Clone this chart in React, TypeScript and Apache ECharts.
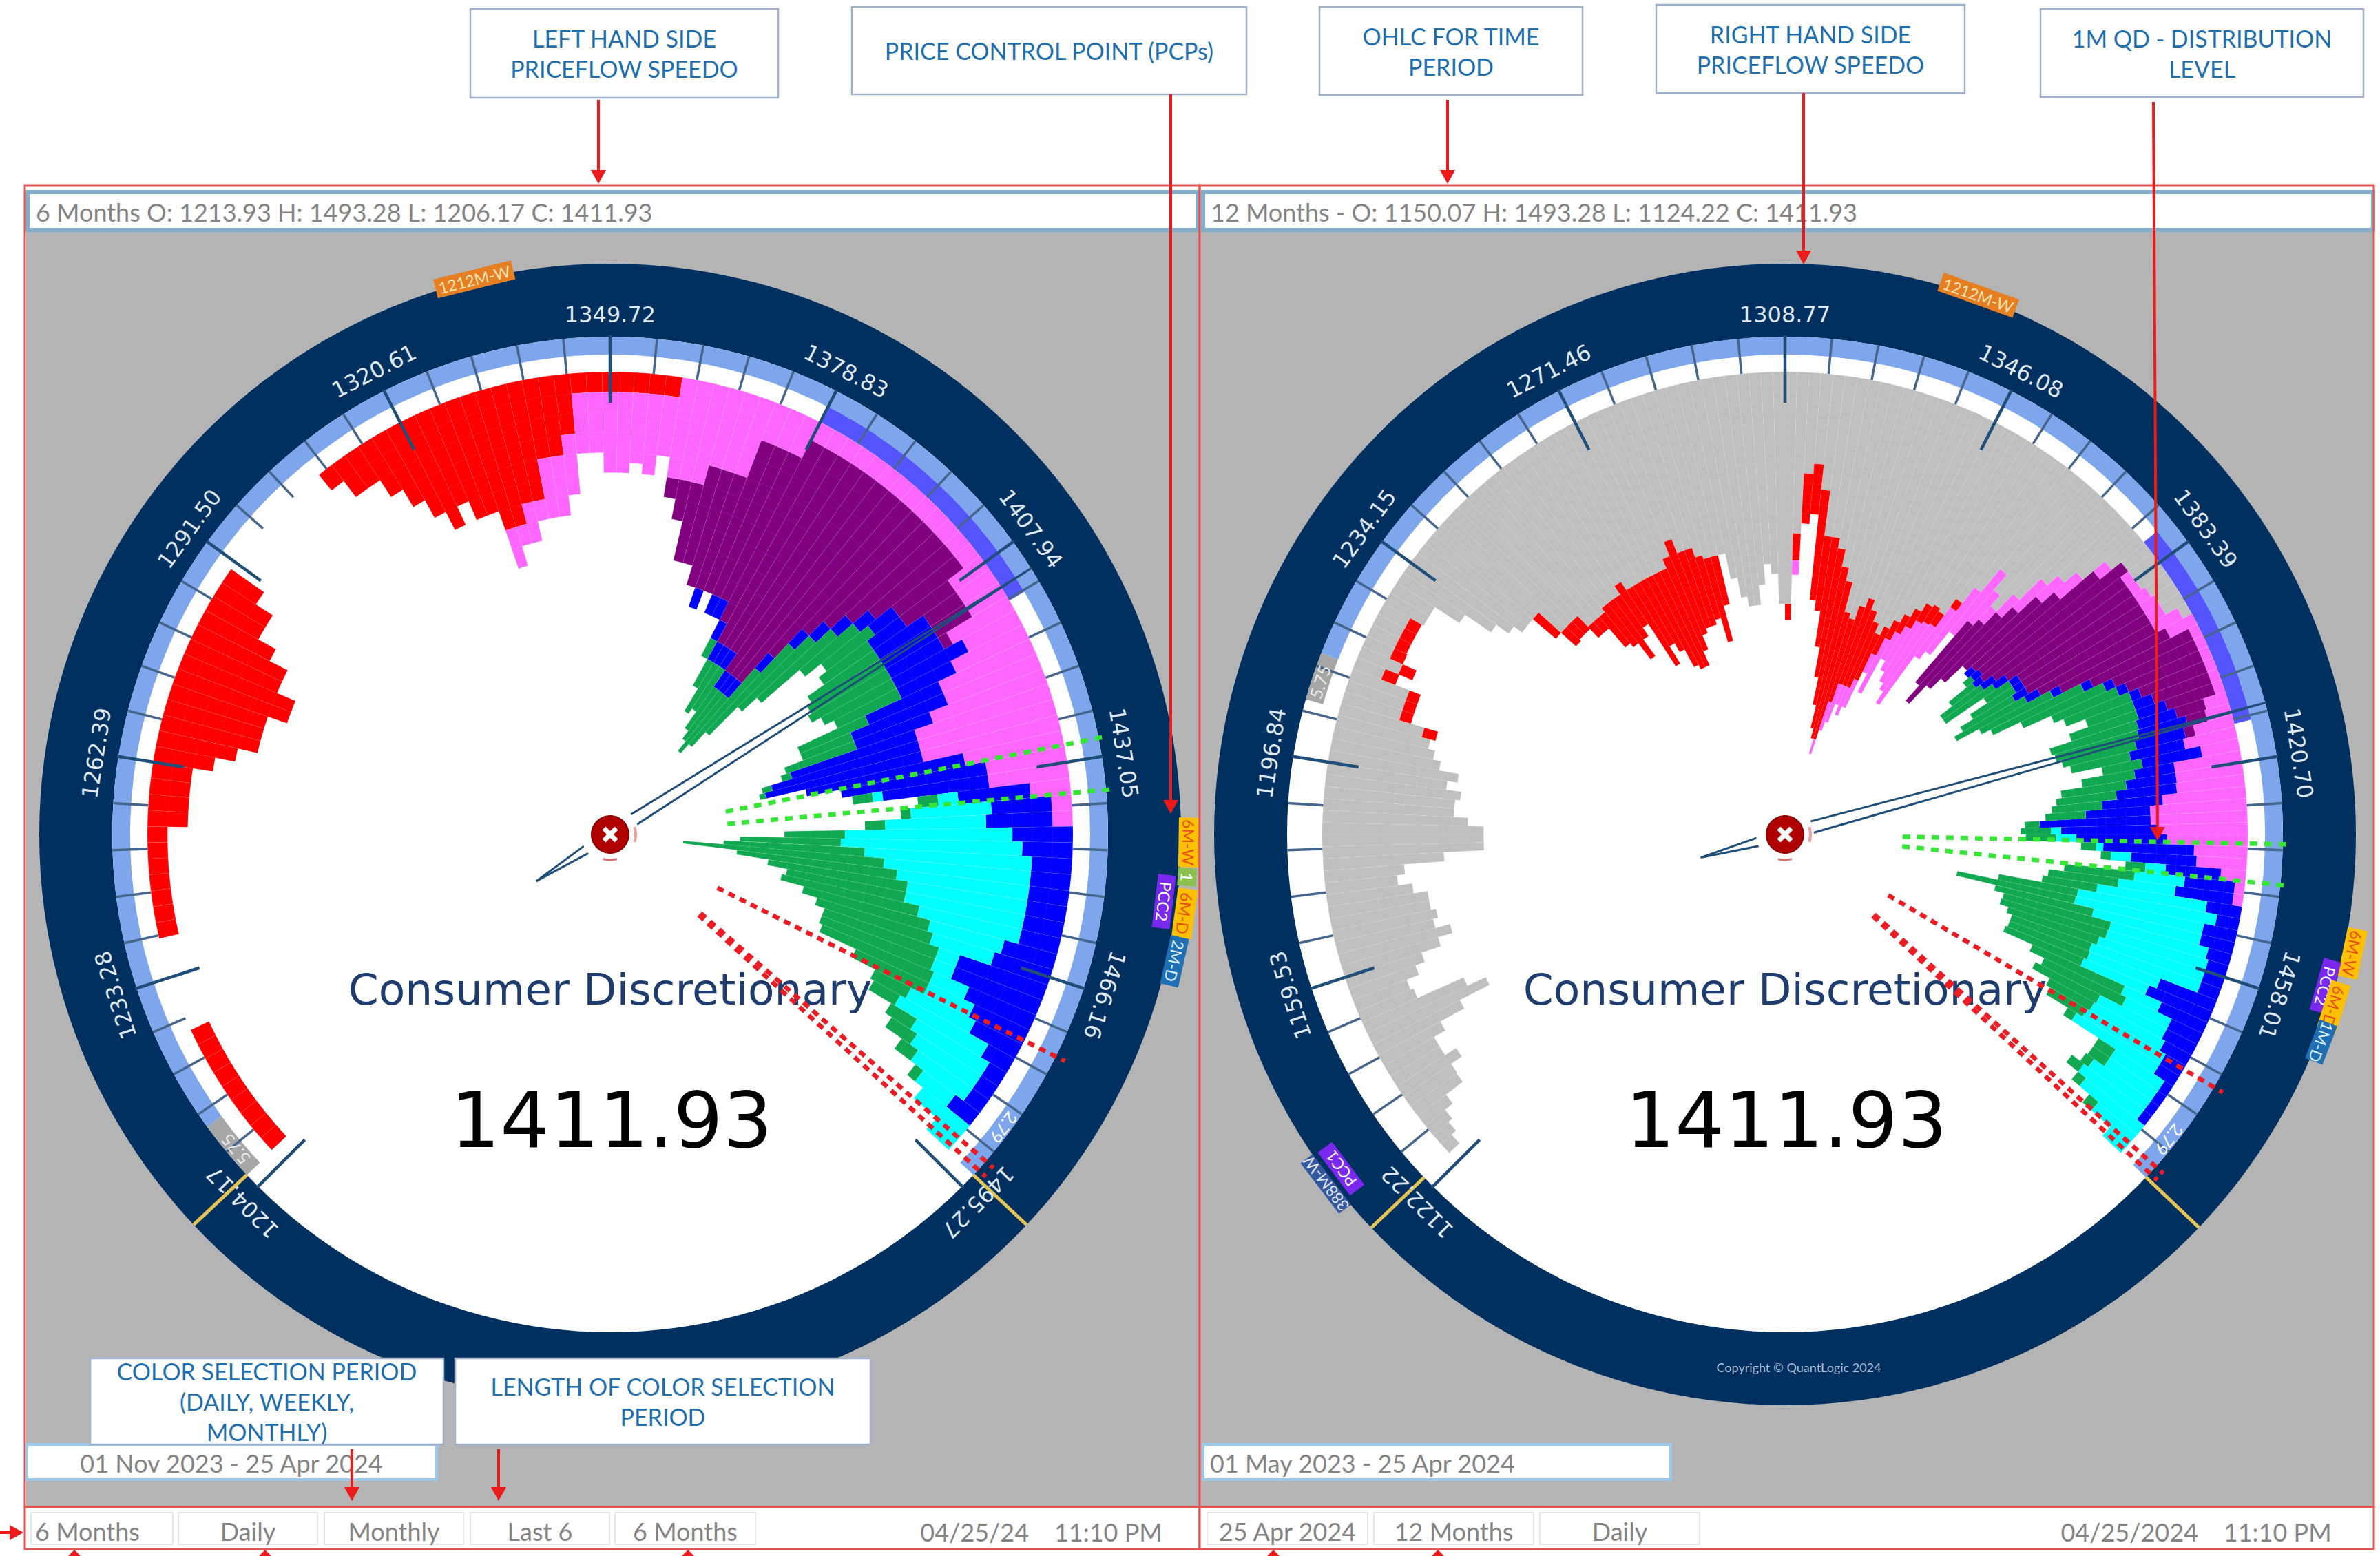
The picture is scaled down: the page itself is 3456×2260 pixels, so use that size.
import React, { useEffect, useRef } from "react";
import * as echarts from "echarts";

const at = (start: number, values: number[]) => new Array(start).fill(0).concat(values);

// ---------- 6-month gauge: sessions per price bin (135 bins) ----------
const leftRed = at(1, [1,1,1,1,1,1,1,1,1, 0,0,0,0,0,0, 1,1,1,1,1,1,1, 2,2,2,2, 3,4,5,5,5,6,6,5,5,4,3,3,2, 0,0,0,0,0,0,0,0, 1,2,2,3,4,5,6,5,6,6,7,7,6,6,4,4,3, 1,1,1,1,1,1,1]);
const leftMagenta = at(58, [2,1,2,1,3,3,3,3,3,4,4,3.5,4,3,5,5,5,4,4,4,2,2,2, 1,1,1,1,1,1,1,1,1,1,1,1,1, 2,2,2,3.5,3,4,5,5,6,7,7,7,5,4,4,2,1,1]);
const leftPurple = at(72, [1,2,4,5,6,6,8,8,8,10,11,11,11,12,12,12,10,8,7,6,5,4,3,2,2,0.5]);
const leftBlue = at(77, [1,0,1,1,1,1,1,1,1,1,1,1,1,1,1,1,1.5,2,3,3,3,4,3,4,5,4,6.5,7.6,8,8,7.3,5.3,3.6,3,3.3,3,2.5,2,2,2,2,2,2,2.7,3,4.6,4.6,3.6,3,2.6,1.5,1,1,1,1.5]);
const leftCyan = at(108, [0.5,1,4,5,8.3,9,8.3,7.3,6.6,6,6,5.2,3.8,3.2,1.1,1.1,1.9,2.5,3.6,5,4.2,3.8,3.3,2,3,1.5,0]);
const leftGreen = at(81, [1,1.5,2.8,2.5,2.5,3,3.6,5,6,5,5,3.5,3,3,4,4.3,4.5,4,3.5,3.7,2.7,3.7,0.5,0.5,0.3,0,0,1,1,0.5,1,3,5,7,10,8,7,6,7,6.5,6,6,6,6,4,2,1.5,1.5,1.5,1,0.5,0,0,0]);

// ---------- 12-month gauge: sessions per price bin (180 bins) ----------
const rightGrey = [0,1.4,2,2.5,3.5,5.6,5.7,7,5.7,5.7,7,9.7,13,11,6,5.7,7,8,10,11.5,10,10.5,10,10,8.6,7.2,8,12,16,16,16,14.4,13,13,13.5,12,13,11,10.2,9.5,8.6,6,6,6,3,4.4,3,3,3,3,4.5,4.5,7.4,10.5,12,13,13,13,16,16,16,17.5,17.5,17.5,17,17,17,16,17,17,17,17,17,17,16,14.5,16,16,17,17.4,17.4,17.4,20,22,23,23,21,19,20,23,23,16,10,9,11.5,16,16,17,18.7,20,23,23.5,22,21,22,23,24,23,22,21,20,19,18.7,19,17,15,12,14,15.4,13,10,8.6,7,4.2,3,3,3,2.6,2.3,2.3,1];
const rightRed = at(40, [1.4,1.2,1.2,1.2,1.5,1.5,1.4,1.3,1.3,1.3,0,0,0,0,0,0,0,3,2,1.8,1.8,1.5,1.5,4,5,7,5,5,9,7,8,10,10.5,10.5,10,10,8,8,6.5,8.6,5,0,0,0,0,0,0,0,0,0,1.6,2.7,5,5,11,7.5,11,13,14,15,13,12.5,10,9,8,7,5,3,2,2,2,2,2,1.5,1]);
const rightMagenta = at(91, [1.4,0,0,0,0,0,0,0,0,0,1.5,3,4,2,3,3,2,6,3,5,7,8,9.5,6,8,8,4,1.8,2.5,4,3,3,1.5,0,1,1,1.4,1.7,1.7,3,3,1,1,1,1,1,1,2.3,2.5,4,5.3,3.8,6.7,6.7,6.8,8.3,9.6,9.6,9,8,5.3,5,2.5,1,1]);
const rightPurple = at(117, [8,10.8,10,10,10,11,15,18,16,15,14,14,14,13,12,11,9,8,7,6,5,3,2,1]);
const rightBlue = at(122, [1,1,1,1.5,1.5,1,1,1.5,1.5,1,1,1,1,1,2,3,4,5,5,5.5,6,4,5,6,6,6.4,11,9.5,9,9,6.5,5.5,5,5.8,3.5,2.3,3.4,3.4,2.4,2.1,2.1,2.1,6,6.8,5,3.4,3.4,3,2.3,2.3,1,1,1,1]);
const rightCyan = at(149, [1,2,0.7,2,2,5,5.7,11,14,13,11,10,10.4,11,11.5,7.5,7,4,5,7.4,8,9,9.7,5.8,5.8,7,7.5,7.5,5,2.5,0]);
const rightGreen = at(123, [1,3,5,6,3,5,6,8,8,10,9,7,7,5,7,9,8.5,7.5,6,4,5.3,6.5,6,5,4,1.5,3,3,1.5,1,2,7,7,5.5,8,12,10,11,11,9.5,8.4,8.5,8.4,10,9,7.2,5,4.2,1,2,2,1,1.5,1,1.2,0,0]);

// ---------- price scales ----------
const leftMajor = [1204.17,1233.28,1262.39,1291.5,1320.61,1349.72,1378.83,1407.94,1437.05,1466.16,1495.27];
const leftLabels = ["1204.17","1233.28","1262.39","1291.50","1320.61","1349.72","1378.83","1407.94","1437.05","1466.16","1495.27"];
const rightMajor = [1122.22,1159.53,1196.84,1234.15,1271.46,1308.77,1346.08,1383.39,1420.7,1458.01];
const rightLabels = ["1122.22","1159.53","1196.84","1234.15","1271.46","1308.77","1346.08","1383.39","1420.70","1458.01"];
const rightMaxPrice = 1495.32;
const closePrice = 1411.93;
const leftLowHigh = [1206.17, 1493.28];
const rightLowHigh = [1124.22, 1493.28];
const pcpGreen = [1434.7, 1441.2];
const pcpRed = [1475.3, 1491, 1492.4];

const leftBands = [
  { from: 1213.93, to: 1493.28, r0: 697, r: 723, color: "#7da6ed" },
  { from: 1206.17, to: 1213.93, r0: 697, r: 723, color: "#a6a6a6" },
  { from: 1379, to: 1414, r0: 672, r: 697, color: "#5555ff" },
];
const rightBands = [
  { from: 1213.93, to: 1493.28, r0: 697, r: 723, color: "#7da6ed" },
  { from: 1206.17, to: 1213.93, r0: 697, r: 723, color: "#a6a6a6" },
  { from: 1379, to: 1414, r0: 672, r: 697, color: "#5555ff" },
];

const leftTags = [
  { p: 1334.9, r: 830, w: 116, h: 28, text: "1212M-W", fill: "#e67e22", color: "#fbe3b5" },
  { p: 1447.6, r: 840, w: 72, h: 29, text: "6M-W", fill: "#ffc000", color: "#e8501a" },
  { p: 1451.3, r: 840, w: 26, h: 27, text: "1", fill: "#8cc152", color: "#ffffff" },
  { p: 1454.2, r: 810, w: 78, h: 26, text: "PCC2", fill: "#7a28f0", color: "#ffffff" },
  { p: 1455.2, r: 842, w: 72, h: 29, text: "6M-D", fill: "#ffc000", color: "#e8501a" },
  { p: 1460.4, r: 840, w: 72, h: 27, text: "2M-D", fill: "#1f6fb5", color: "#d7ecff" },
  { p: 1209.5, r: 711, w: 0, h: 0, text: "5.75", fill: "", color: "#e8e8e8" },
  { p: 1486.3, r: 713, w: 0, h: 0, text: "2.79", fill: "", color: "#ffffff" },
];
const rightTags = [
  { p: 1336, r: 832, w: 116, h: 28, text: "1212M-W", fill: "#e67e22", color: "#fbe3b5" },
  { p: 1449.5, r: 842, w: 72, h: 29, text: "6M-W", fill: "#ffc000", color: "#e8501a" },
  { p: 1454.8, r: 815, w: 78, h: 26, text: "PCC2", fill: "#7a28f0", color: "#ffffff" },
  { p: 1457.2, r: 835, w: 72, h: 29, text: "6M-D", fill: "#ffc000", color: "#e8501a" },
  { p: 1462.4, r: 835, w: 60, h: 27, text: "1M-D", fill: "#1f6fb5", color: "#d7ecff" },
  { p: 1133.3, r: 807, w: 78, h: 26, text: "PCC1", fill: "#7a28f0", color: "#ffffff" },
  { p: 1132.9, r: 838, w: 92, h: 22, text: "388M-W", fill: "#34589f", color: "#e4e4f4" },
  { p: 1209.5, r: 711, w: 0, h: 0, text: "5.75", fill: "", color: "#e8e8e8" },
  { p: 1486.3, r: 713, w: 0, h: 0, text: "2.79", fill: "", color: "#ffffff" },
];

// ---------- colours and layout ----------
const colors = { grey: "#bfbfbf", red: "#ff0000", magenta: "#ff66ff", purple: "#800080", blue: "#0000ff", cyan: "#00ffff", green: "#10a850" };
const leftCenter = [886, 1212];
const rightCenter = [2592, 1212];
const BAR_R = 672, RING_R = 829, RING_IN = 723;
const DARK = "#00305f", TICK = "#1f4e79", MINOR = "#46658c", BLUE_TXT = "#1f6fae", GREY_TXT = "#848484", RED = "#ec1a1a";
const LATO = "Lato, sans-serif", DEJAVU = "'DejaVu Sans', sans-serif";

const binNames = (n: number) => Array.from({ length: n }, (_, i) => String(i));

function bar(name: string, values: number[], color: string, polarIndex: number, stack: string) {
  return {
    type: "bar", name, coordinateSystem: "polar", polarIndex, stack, silent: true, z: 2, clip: false,
    barCategoryGap: "0%",
    data: values.map((v) => (v > 0 ? v : null)),
    itemStyle: { color, borderColor: "rgba(255,255,255,0.07)", borderWidth: 1 },
  };
}

function overlays(polarIndex: number, cfg: any) {
  const base = { type: "custom", coordinateSystem: "polar", polarIndex, silent: true };
  const rows = (list: number[]) => list.map((p) => [0, p]);
  const ang = (params: any, api: any, p: number) => {
    const q = api.coord([100, p]);
    return Math.atan2(q[1] - params.coordSys.cy, q[0] - params.coordSys.cx);
  };
  const radial = (api: any, p: number, r0: number, r1: number, style: any) => {
    const a = api.coord([r0, p]);
    const b = api.coord([r1, p]);
    return { type: "line", shape: { x1: a[0], y1: a[1], x2: b[0], y2: b[1] }, style: { fill: "none", ...style } };
  };

  const minor: number[] = [];
  const step = cfg.major[1] - cfg.major[0];
  for (let i = 0; i < 10; i++) for (let k = 1; k < 5; k++) minor.push(cfg.major[0] + i * step + (k * step) / 5);

  return [
    {
      ...base, z: 1, data: cfg.bands.map((b: any) => [0, b.from]),
      renderItem: (params: any, api: any) => {
        const b = cfg.bands[params.dataIndex];
        return {
          type: "sector",
          shape: { cx: params.coordSys.cx, cy: params.coordSys.cy, r0: b.r0, r: b.r, startAngle: ang(params, api, b.from), endAngle: ang(params, api, b.to), clockwise: true },
          style: { fill: b.color },
        };
      },
    },
    { ...base, z: 3, data: rows(minor), renderItem: (_: any, api: any) => radial(api, api.value(1), RING_IN, BAR_R, { stroke: MINOR, lineWidth: 3.5 }) },
    { ...base, z: 3, data: rows(cfg.major), renderItem: (_: any, api: any) => radial(api, api.value(1), RING_IN + 2, 627, { stroke: TICK, lineWidth: 4.5 }) },
    { ...base, z: 3, data: rows(cfg.lowHigh), renderItem: (_: any, api: any) => radial(api, api.value(1), RING_IN, RING_R, { stroke: "#e5c453", lineWidth: 5 }) },
    { ...base, z: 6, data: rows(pcpGreen), renderItem: (_: any, api: any) => radial(api, api.value(1), 171, 732, { stroke: "#35e635", lineWidth: 6.5, lineDash: [11, 10] }) },
    { ...base, z: 6, data: rows(pcpRed), renderItem: (_: any, api: any) => radial(api, api.value(1), 174, 738, { stroke: "#ec1c24", lineWidth: 6.5, lineDash: [10, 8] }) },
    {
      ...base, z: 7, data: rows([closePrice]),
      renderItem: (params: any, api: any) => {
        const c = api.coord([0, api.value(1)]);
        const tip = api.coord([725, api.value(1)]);
        const ux = (tip[0] - c[0]) / 725, uy = (tip[1] - c[1]) / 725;
        const tail = [c[0] - ux * 127, c[1] - uy * 127];
        const nx = -uy * 9, ny = ux * 9;
        return {
          type: "group",
          children: [
            { type: "polygon", shape: { points: [tip, [c[0] + nx, c[1] + ny], tail, [c[0] - nx, c[1] - ny]] }, style: { fill: "none", stroke: TICK, lineWidth: 3 } },
            { type: "circle", shape: { cx: c[0], cy: c[1], r: 42 }, style: { fill: "#ffffff" } },
            { type: "arc", shape: { cx: c[0], cy: c[1], r: 37, startAngle: -0.3, endAngle: 0.3 }, style: { fill: "none", stroke: "#e8a0a0", lineWidth: 4 } },
            { type: "arc", shape: { cx: c[0], cy: c[1], r: 37, startAngle: 1.3, endAngle: 1.85 }, style: { fill: "none", stroke: "#d07070", lineWidth: 3 } },
            { type: "circle", shape: { cx: c[0], cy: c[1], r: 27 }, style: { fill: "#b00000", stroke: "#8a0000", lineWidth: 2 } },
            { type: "line", shape: { x1: c[0] - 9, y1: c[1] - 9, x2: c[0] + 9, y2: c[1] + 9 }, style: { stroke: "#ffffff", lineWidth: 7 } },
            { type: "line", shape: { x1: c[0] - 9, y1: c[1] + 9, x2: c[0] + 9, y2: c[1] - 9 }, style: { stroke: "#ffffff", lineWidth: 7 } },
          ],
        };
      },
    },
    {
      ...base, z: 4, data: rows(cfg.major),
      renderItem: (params: any, api: any) => {
        const p = api.value(1);
        const q = api.coord([755, p]);
        return {
          type: "text", x: q[0], y: q[1], rotation: -(ang(params, api, p) + Math.PI / 2),
          style: { text: cfg.labels[params.dataIndex], fill: "#dfe8f2", fontSize: 32, fontFamily: DEJAVU, align: "center", verticalAlign: "middle" },
        };
      },
    },
    {
      ...base, z: 5, data: cfg.tags.map((t: any) => [0, t.p]),
      renderItem: (params: any, api: any) => {
        const t = cfg.tags[params.dataIndex];
        const q = api.coord([t.r, t.p]);
        const children: any[] = [];
        if (t.fill) children.push({ type: "rect", shape: { x: -t.w / 2, y: -t.h / 2, width: t.w, height: t.h }, style: { fill: t.fill } });
        children.push({ type: "text", x: 0, y: 0, style: { text: t.text, fill: t.color, fontSize: t.fill ? 23 : 25, fontFamily: LATO, align: "center", verticalAlign: "middle" } });
        return { type: "group", x: q[0], y: q[1], rotation: -(ang(params, api, t.p) + Math.PI / 2), children };
      },
    },
  ];
}

// ---------- page furniture ----------
function txt(text: string, x: number, y: number, fontSize: number, fill: string, z: number, extra: any = {}) {
  return { type: "text", x, y, z, silent: true, style: { text, fill, fontSize, fontFamily: LATO, align: "center", verticalAlign: "middle", ...extra } };
}
function box(x: number, y: number, w: number, h: number, fill: string, stroke: string, lineWidth: number, z: number) {
  return { type: "rect", z, silent: true, shape: { x, y, width: w, height: h }, style: { fill, stroke, lineWidth } };
}
function arrow(x1: number, y1: number, x2: number, y2: number) {
  const len = Math.hypot(x2 - x1, y2 - y1), ux = (x2 - x1) / len, uy = (y2 - y1) / len;
  return [
    { type: "line", z: 40, silent: true, shape: { x1, y1, x2: x2 - ux * 15, y2: y2 - uy * 15 }, style: { stroke: RED, lineWidth: 4 } },
    { type: "polygon", z: 40, silent: true, shape: { points: [[x2, y2], [x2 - ux * 20 - uy * 11, y2 - uy * 20 + ux * 11], [x2 - ux * 20 + uy * 11, y2 - uy * 20 - ux * 11]] }, style: { fill: RED } },
  ];
}
const callouts = [
  { x: 683, y: 13, w: 447, h: 129, text: "LEFT HAND SIDE\nPRICEFLOW SPEEDO" },
  { x: 1237, y: 10, w: 573, h: 127, text: "PRICE CONTROL POINT (PCPs)" },
  { x: 1916, y: 10, w: 382, h: 128, text: "OHLC FOR TIME\nPERIOD" },
  { x: 2405, y: 7, w: 448, h: 128, text: "RIGHT HAND SIDE\nPRICEFLOW SPEEDO" },
  { x: 2963, y: 13, w: 469, h: 128, text: "1M QD - DISTRIBUTION\nLEVEL" },
  { x: 131, y: 1973, w: 513, h: 125, text: "COLOR SELECTION PERIOD\n(DAILY, WEEKLY,\nMONTHLY)" },
  { x: 661, y: 1973, w: 603, h: 125, text: "LENGTH OF COLOR SELECTION\nPERIOD" },
];
const leftTabs = [
  { x: 45, w: 206, text: "6 Months", cx: 127 }, { x: 259, w: 202, text: "Daily" }, { x: 471, w: 202, text: "Monthly" },
  { x: 683, w: 202, text: "Last 6" }, { x: 893, w: 204, text: "6 Months", cx: 995 },
];
const rightTabs = [{ x: 1753, w: 233, text: "25 Apr 2024" }, { x: 1995, w: 232, text: "12 Months" }, { x: 2236, w: 232, text: "Daily" }];
const redArrows = [[869,145,869,267],[1700,137,1700,1182],[2102,145,2102,267],[2619,135,2619,384],[3127,148,3133,1221],[511,2105,511,2180],[724,2105,724,2180],[0,2226,34,2226]];
const bottomMarks = [108, 385, 999, 1849, 2088];

function furniture() {
  const g: any[] = [];
  g.push(box(38, 335, 1704, 1854, "#b4b4b4", "none", 0, -2));
  g.push(box(1744, 335, 1703, 1854, "#b4b4b4", "none", 0, -2));
  for (const c of [leftCenter, rightCenter]) {
    g.push({ type: "circle", z: -1, silent: true, shape: { cx: c[0], cy: c[1], r: RING_R }, style: { fill: DARK } });
    g.push({ type: "circle", z: 0, silent: true, shape: { cx: c[0], cy: c[1], r: RING_IN }, style: { fill: "#ffffff" } });
    g.push({ type: "text", z: 4, silent: true, x: c[0], y: 1437, style: { text: "Consumer Discretionary", fill: "#1f3c6e", fontSize: 63, fontFamily: DEJAVU, align: "center", verticalAlign: "middle" } });
    g.push({ type: "text", z: 4, silent: true, x: c[0] + 2, y: 1627, style: { text: "1411.93", fill: "#000000", fontSize: 113, fontFamily: DEJAVU, align: "center", verticalAlign: "middle" } });
  }
  g.push(txt("Copyright © QuantLogic 2024", 2612, 1986, 18, "#a9bfd8", 5));
  // headers
  g.push(box(40, 279, 1699, 55, "#ffffff", "#82aecb", 6, 20));
  g.push(box(1747, 279, 1699, 55, "#ffffff", "#82aecb", 6, 20));
  g.push(txt("6 Months O: 1213.93 H: 1493.28 L: 1206.17 C: 1411.93", 52, 308, 36, GREY_TXT, 21, { align: "left" }));
  g.push(txt("12 Months - O: 1150.07 H: 1493.28 L: 1124.22 C: 1411.93", 1758, 308, 36, GREY_TXT, 21, { align: "left" }));
  // red frames
  g.push(box(36, 269, 1706, 1920, "none", "#e25555", 3, 22));
  g.push(box(1742, 269, 1705, 1920, "none", "#e25555", 3, 22));
  g.push(box(36, 2189, 1706, 61, "#ffffff", "#e25555", 3, 22));
  g.push(box(1742, 2189, 1705, 61, "#ffffff", "#e25555", 3, 22));
  // date boxes
  g.push(box(39, 2098, 595, 51, "#ffffff", "#9cc8ea", 4, 23));
  g.push(txt("01 Nov 2023 - 25 Apr 2024", 336, 2125, 36, GREY_TXT, 24));
  g.push(box(1747, 2098, 679, 51, "#ffffff", "#9cc8ea", 4, 23));
  g.push(txt("01 May 2023 - 25 Apr 2024", 1757, 2125, 36, GREY_TXT, 24, { align: "left" }));
  // tabs
  for (const t of [...leftTabs, ...rightTabs] as any[]) {
    g.push(box(t.x, 2197, t.w, 46, "#ffffff", "#e6e6e6", 2, 23));
    g.push(txt(t.text, t.cx ?? t.x + t.w / 2, 2224, 36, GREY_TXT, 24));
  }
  g.push(txt("04/25/24    11:10 PM", 1512, 2225, 36, GREY_TXT, 24));
  g.push(txt("04/25/2024    11:10 PM", 3189, 2225, 36, GREY_TXT, 24));
  // callouts
  for (const c of callouts) {
    g.push(box(c.x, c.y, c.w, c.h, "#ffffff", "#9fb0cc", 2.5, 30));
    g.push(txt(c.text, c.x + c.w / 2, c.y + c.h / 2, 34, BLUE_TXT, 31, { lineHeight: 44 }));
  }
  for (const a of redArrows) g.push(...arrow(a[0], a[1], a[2], a[3]));
  for (const x of bottomMarks) g.push({ type: "polygon", z: 40, silent: true, shape: { points: [[x, 2251], [x - 9, 2260], [x + 9, 2260]] }, style: { fill: RED } });
  return g;
}

function buildOption() {
  const polarCommon = (center: number[], r: number) => ({ center, radius: [0, r] });
  const angleHidden = { startAngle: 225, endAngle: -45, clockwise: true, axisLine: { show: false }, axisTick: { show: false }, axisLabel: { show: false }, splitLine: { show: false } };
  const radiusHidden = { axisLine: { show: false }, axisTick: { show: false }, axisLabel: { show: false } };
  const rings = { show: true, lineStyle: { color: "rgba(255,255,255,0.07)", width: 1 } };
  return {
    animation: false,
    backgroundColor: "#ffffff",
    polar: [polarCommon(leftCenter, BAR_R), polarCommon(rightCenter, BAR_R), polarCommon(leftCenter, RING_R), polarCommon(rightCenter, RING_R)],
    angleAxis: [
      { ...angleHidden, polarIndex: 0, type: "category", data: binNames(135) },
      { ...angleHidden, polarIndex: 1, type: "category", data: binNames(180) },
      { ...angleHidden, polarIndex: 2, type: "value", min: leftMajor[0], max: leftMajor[10] },
      { ...angleHidden, polarIndex: 3, type: "value", min: rightMajor[0], max: rightMaxPrice },
    ],
    radiusAxis: [
      { ...radiusHidden, polarIndex: 0, type: "value", min: 0, max: 22.94, interval: 1, inverse: true, z: 2.5, splitLine: rings },
      { ...radiusHidden, polarIndex: 1, type: "value", min: 0, max: 45.87, interval: 1, inverse: true, z: 2.5, splitLine: rings },
      { ...radiusHidden, polarIndex: 2, type: "value", min: 0, max: RING_R, splitLine: { show: false } },
      { ...radiusHidden, polarIndex: 3, type: "value", min: 0, max: RING_R, splitLine: { show: false } },
    ],
    series: [
      bar("6M red", leftRed, colors.red, 0, "left"),
      bar("6M magenta", leftMagenta, colors.magenta, 0, "left"),
      bar("6M purple", leftPurple, colors.purple, 0, "left"),
      bar("6M blue", leftBlue, colors.blue, 0, "left"),
      bar("6M cyan", leftCyan, colors.cyan, 0, "left"),
      bar("6M green", leftGreen, colors.green, 0, "left"),
      bar("12M grey", rightGrey, colors.grey, 1, "right"),
      bar("12M red", rightRed, colors.red, 1, "right"),
      bar("12M magenta", rightMagenta, colors.magenta, 1, "right"),
      bar("12M purple", rightPurple, colors.purple, 1, "right"),
      bar("12M blue", rightBlue, colors.blue, 1, "right"),
      bar("12M cyan", rightCyan, colors.cyan, 1, "right"),
      bar("12M green", rightGreen, colors.green, 1, "right"),
      ...overlays(2, { major: leftMajor, labels: leftLabels, lowHigh: leftLowHigh, bands: leftBands, tags: leftTags }),
      ...overlays(3, { major: rightMajor, labels: rightLabels, lowHigh: rightLowHigh, bands: rightBands, tags: rightTags }),
    ],
    graphic: { elements: furniture() },
  };
}

export default function App() {
  const ref = useRef<HTMLDivElement>(null);
  useEffect(() => {
    const chart = echarts.init(ref.current as HTMLDivElement, undefined, { renderer: "svg" });
    chart.setOption(buildOption() as any);
    return () => chart.dispose();
  }, []);
  return <div ref={ref} style={{ position: "absolute", left: 0, top: 0, width: 3456, height: 2260 }} />;
}
